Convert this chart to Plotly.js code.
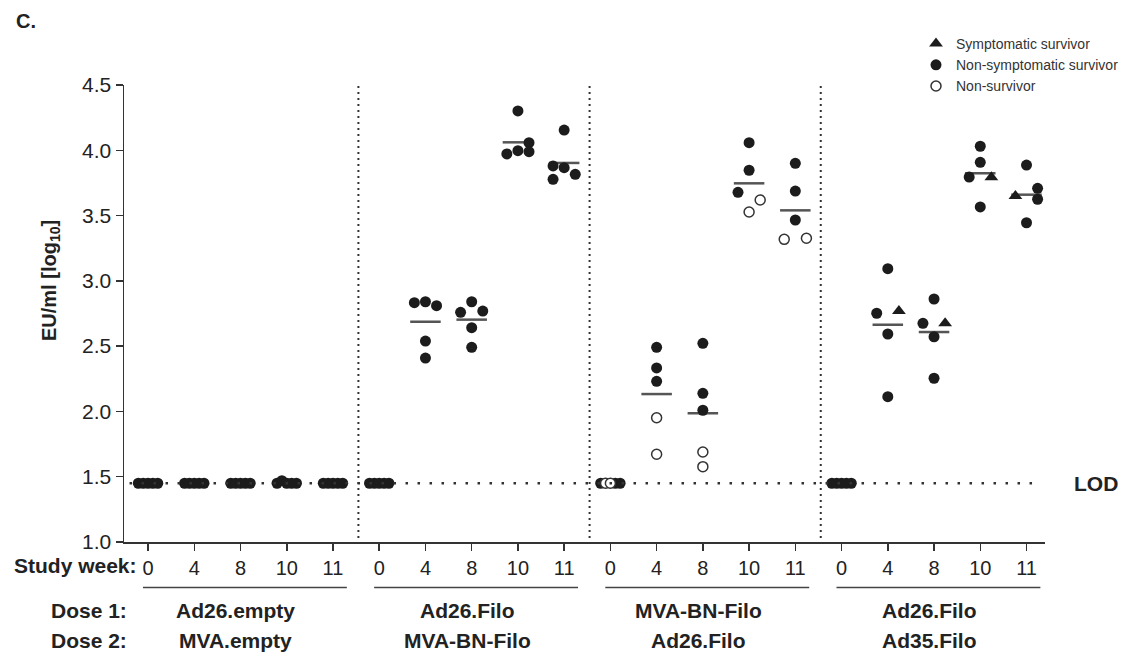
<!DOCTYPE html>
<html>
<head>
<meta charset="utf-8">
<script src="https://cdn.plot.ly/plotly-3.0.1.min.js"></script>
<style>html,body{margin:0;padding:0;background:#fff;}#chart{width:1131px;height:659px;}</style>
</head>
<body>
<div id="chart"></div>
<script>
// ---------------- data ----------------
const weeks = ['0', '4', '8', '10', '11'];
const dose1 = ['Ad26.empty', 'Ad26.Filo', 'MVA-BN-Filo', 'Ad26.Filo'];
const dose2 = ['MVA.empty', 'MVA-BN-Filo', 'Ad26.Filo', 'Ad35.Filo'];
const LOD = 1.45;
const yTicks = [1.0, 1.5, 2.0, 2.5, 3.0, 3.5, 4.0, 4.5];

// values per group, per study week (5 animals each)
const g1Vals = [
  [1.45, 1.45, 1.45, 1.45, 1.45],
  [1.45, 1.45, 1.45, 1.45, 1.45],
  [1.45, 1.45, 1.45, 1.45, 1.45],
  [1.45, 1.47, 1.45, 1.45, 1.45],
  [1.45, 1.45, 1.45, 1.45, 1.45]
];
const g2Vals = [
  [1.45, 1.45, 1.45, 1.45, 1.45],
  [2.833, 2.840, 2.810, 2.539, 2.409],
  [2.840, 2.759, 2.769, 2.641, 2.491],
  [4.301, 3.972, 3.997, 4.058, 3.989],
  [4.155, 3.880, 3.867, 3.816, 3.778]
];
const g3Vals = [
  [1.45, 1.45, 1.45, 1.45, 1.45],
  [2.491, 2.333, 2.231, 1.952, 1.672],
  [2.522, 2.139, 2.009, 1.689, 1.577],
  [4.058, 3.847, 3.678, 3.619, 3.527],
  [3.900, 3.688, 3.466, 3.318, 3.326]
];
const g4Vals = [
  [1.45, 1.45, 1.45, 1.45, 1.45],
  [3.093, 2.752, 2.769, 2.593, 2.113],
  [2.861, 2.675, 2.675, 2.572, 2.254],
  [4.031, 3.908, 3.795, 3.793, 3.566],
  [3.887, 3.709, 3.625, 3.650, 3.445]
];

// outcome per point: S = symptomatic survivor, N = non-symptomatic survivor, D = non-survivor
const allN = ['N', 'N', 'N', 'N', 'N'];
const g1Type = [allN, allN, allN, allN, allN];
const g2Type = [allN, allN, allN, allN, allN];
const g3Type = [
  ['N', 'D', 'D', 'N', 'N'],
  ['N', 'N', 'N', 'D', 'D'],
  ['N', 'N', 'N', 'D', 'D'],
  ['N', 'N', 'N', 'D', 'D'],
  ['N', 'N', 'N', 'D', 'D']
];
const g4Type = [
  allN,
  ['N', 'N', 'S', 'N', 'N'],
  ['N', 'N', 'S', 'N', 'N'],
  ['N', 'N', 'N', 'S', 'N'],
  ['N', 'N', 'N', 'S', 'N']
];

// geometric mean bars
const g2Mean = [null, 2.687, 2.703, 4.061, 3.903];
const g3Mean = [null, 2.133, 1.986, 3.747, 3.540];
const g4Mean = [null, 2.664, 2.608, 3.824, 3.660];

// ---------------- scatter jitter (layout helper, column slots) ----------------
const lodSlots = [-2, -1, 0, 1, 2];
const g1Slot = [lodSlots, lodSlots, lodSlots, lodSlots, lodSlots];
const g2Slot = [lodSlots, [-1, 0, 1, 0, 0], [0, -1, 1, 0, 0], [0, -1, 0, 1, 1], [0, -1, 0, 1, -1]];
const g3Slot = [lodSlots, [0, 0, 0, 0, 0], [0, 0, 0, 0, 0], [0, 0, -1, 1, 0], [0, 0, 0, -1, 1]];
const g4Slot = [lodSlots, [0, -1, 1, 0, 0], [0, -1, 1, 0, 0], [0, 0, -1, 1, 0], [0, 1, 1, -1, 0]];

const groupVals = [g1Vals, g2Vals, g3Vals, g4Vals];
const groupType = [g1Type, g2Type, g3Type, g4Type];
const groupSlot = [g1Slot, g2Slot, g3Slot, g4Slot];
const groupMean = [null, g2Mean, g3Mean, g4Mean];

// ---------------- build traces ----------------
const pts = {S: {x: [], y: []}, N: {x: [], y: []}, D: {x: [], y: []}};
const meanX = [], meanY = [];
for (let g = 0; g < 4; g++) {
  for (let w = 0; w < weeks.length; w++) {
    const c = g * 5 + w;
    const vals = groupVals[g][w];
    const isLod = vals.every(v => Math.abs(v - LOD) < 0.05);
    const step = isLod ? 0.105 : 0.24;
    vals.forEach((v, i) => {
      const t = groupType[g][w][i];
      pts[t].x.push(c + groupSlot[g][w][i] * step);
      pts[t].y.push(v);
    });
    if (groupMean[g] && groupMean[g][w] != null) {
      meanX.push(c - 0.33, c + 0.33, null);
      meanY.push(groupMean[g][w], groupMean[g][w], null);
    }
  }
}

const ink = '#1c1c1c';
const traces = [
  {type: 'scatter', mode: 'lines', x: meanX, y: meanY, line: {color: '#555', width: 2.5},
   showlegend: false, hoverinfo: 'skip'},
  {type: 'scatter', mode: 'markers', name: 'Non-symptomatic survivor', legendrank: 2,
   x: pts.N.x, y: pts.N.y, marker: {symbol: 'circle', size: 11, color: ink}},
  {type: 'scatter', mode: 'markers', name: 'Symptomatic survivor', legendrank: 1,
   x: pts.S.x, y: pts.S.y, marker: {symbol: 'triangle-up', size: 12, color: ink}},
  {type: 'scatter', mode: 'markers', name: 'Non-survivor', legendrank: 3,
   x: pts.D.x, y: pts.D.y, marker: {symbol: 'circle', size: 10, color: '#fff', line: {color: '#333', width: 1.5}}}
];

// ---------------- layout ----------------
const font = '"Liberation Sans", Arial, Helvetica, sans-serif';
const W = 1131, H = 659;
const M = {l: 124, r: 86, t: 85, b: 117, autoexpand: false};
const PW = W - M.l - M.r, PH = H - M.t - M.b;
const px2paperX = p => (p - M.l) / PW;
const px2paperY = p => (H - M.b - p) / PH;

const tickvals = [], ticktext = [];
for (let g = 0; g < 4; g++) weeks.forEach((wk, w) => { tickvals.push(g * 5 + w); ticktext.push(wk); });

const shapes = [];
// dotted separators between vaccine groups
for (let g = 1; g < 4; g++) {
  shapes.push({type: 'line', xref: 'x', yref: 'y', x0: g * 5 - 0.45, x1: g * 5 - 0.45, y0: 1.03, y1: 4.5,
    line: {color: '#333', width: 2, dash: '2px,4px'}});
}
// LOD line
shapes.push({type: 'line', xref: 'paper', yref: 'y', x0: 0.006, x1: 0.995, y0: LOD, y1: LOD,
  line: {color: '#333', width: 2.5, dash: '2.5px,9.5px'}});
// underlines under week labels
for (let g = 0; g < 4; g++) {
  shapes.push({type: 'line', xref: 'x', yref: 'paper', x0: g * 5 - 0.11, x1: g * 5 + 4.3,
    y0: px2paperY(587.5), y1: px2paperY(587.5), line: {color: '#444', width: 1.5}});
}

const bold = (s) => '<b>' + s + '</b>';
const annotations = [
  {text: bold('C.'), xref: 'paper', yref: 'paper', x: px2paperX(14), y: px2paperY(21),
   xanchor: 'left', yanchor: 'middle', showarrow: false, font: {family: font, size: 20, color: '#222'}},
  {text: bold('EU/ml [log<sub>10</sub>]'), xref: 'paper', yref: 'paper', x: px2paperX(50), y: px2paperY(281),
   xanchor: 'center', yanchor: 'middle', textangle: -90, showarrow: false, font: {family: font, size: 20, color: '#222'}},
  {text: bold('LOD'), xref: 'paper', yref: 'y', x: px2paperX(1072), y: LOD,
   xanchor: 'left', yanchor: 'middle', showarrow: false, font: {family: font, size: 21, color: '#222'}},
  {text: bold('Study week:'), xref: 'paper', yref: 'paper', x: px2paperX(12), y: px2paperY(565),
   xanchor: 'left', yanchor: 'middle', showarrow: false, font: {family: font, size: 21, color: '#222'}},
  {text: bold('Dose 1:'), xref: 'paper', yref: 'paper', x: px2paperX(49), y: px2paperY(610),
   xanchor: 'left', yanchor: 'middle', showarrow: false, font: {family: font, size: 21, color: '#222'}},
  {text: bold('Dose 2:'), xref: 'paper', yref: 'paper', x: px2paperX(49), y: px2paperY(640),
   xanchor: 'left', yanchor: 'middle', showarrow: false, font: {family: font, size: 21, color: '#222'}}
];
for (let g = 0; g < 4; g++) {
  annotations.push({text: bold(dose1[g]), xref: 'x', yref: 'paper', x: g * 5 + 1.9, y: px2paperY(610),
    xanchor: 'center', yanchor: 'middle', showarrow: false, font: {family: font, size: 21, color: '#222'}});
  annotations.push({text: bold(dose2[g]), xref: 'x', yref: 'paper', x: g * 5 + 1.9, y: px2paperY(640),
    xanchor: 'center', yanchor: 'middle', showarrow: false, font: {family: font, size: 21, color: '#222'}});
}

const axisCommon = {
  showline: true, linecolor: '#333', linewidth: 1.5, ticks: 'outside', ticklen: 7, tickwidth: 1.5,
  tickcolor: '#333', showgrid: false, zeroline: false, fixedrange: true
};

const layout = {
  width: W, height: H, margin: M, paper_bgcolor: '#fff', plot_bgcolor: '#fff',
  font: {family: font, color: '#222'},
  showlegend: true,
  legend: {x: px2paperX(916), y: px2paperY(28), xanchor: 'left', yanchor: 'top',
    font: {family: font, size: 14, color: '#333'}, bgcolor: 'rgba(0,0,0,0)', traceorder: 'normal'},
  xaxis: Object.assign({}, axisCommon, {range: [-0.52, 19.4], tickmode: 'array', tickvals: tickvals,
    ticktext: ticktext, tickfont: {family: font, size: 20, color: '#222'}}),
  yaxis: Object.assign({}, axisCommon, {range: [1, 4.5], tickmode: 'array', tickvals: yTicks,
    ticktext: yTicks.map(v => v.toFixed(1)), tickfont: {family: font, size: 21, color: '#222'}}),
  shapes: shapes,
  annotations: annotations
};

Plotly.newPlot('chart', traces, layout, {displayModeBar: false, staticPlot: true});
</script>
</body>
</html>
